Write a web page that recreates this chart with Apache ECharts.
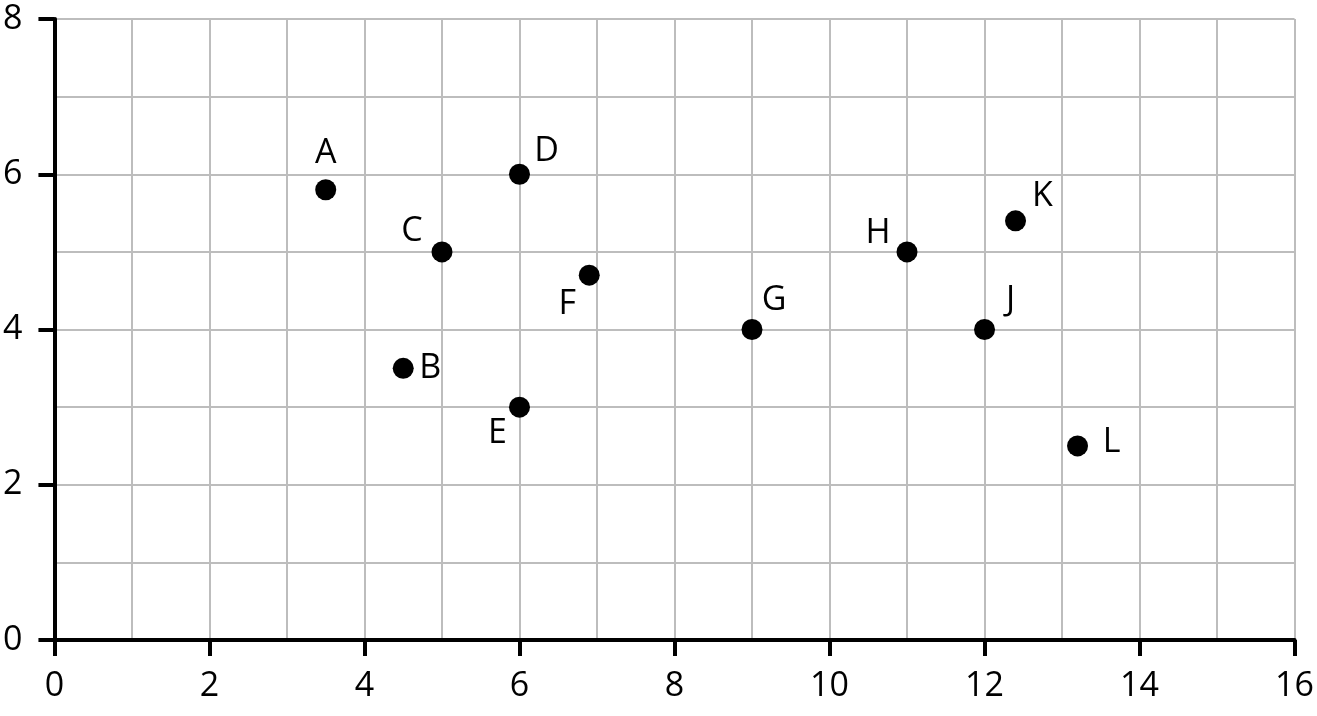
<!DOCTYPE html>
<html><head><meta charset="utf-8">
<script src="https://cdn.jsdelivr.net/npm/echarts@6/dist/echarts.min.js"></script>
<style>html,body{margin:0;padding:0;background:#fff}#c{width:1317px;height:716px}</style>
</head><body><div id="c"></div>
<script>
const names = ['A','B','C','D','E','F','G','H','J','K','L'];
const xValues = [3.5, 4.5, 5, 6, 6, 6.9, 9, 11, 12, 12.4, 13.2];
const yValues = [5.8, 3.5, 5, 6, 3, 4.7, 4, 5, 4, 5.4, 2.5];
const xTicks = [0, 2, 4, 6, 8, 10, 12, 14, 16];
const yTicks = [0, 2, 4, 6, 8];

// label placement (style only)
const labelOffsets = {
  A:[0,-36], B:[27,0], C:[-30,-21], D:[27,-23], E:[-22,26], F:[-22,29],
  G:[22,-29], H:[-29,-19], J:[26,-29], K:[27,-25], L:[34,-4]
};

const data = names.map((n,i)=>({
  name:n, value:[xValues[i], yValues[i]],
  label:{offset:labelOffsets[n]}
}));

const font = 'Open Sans';
const grid = {color:'#bdbdbd', width:2};
const chart = echarts.init(document.getElementById('c'));
chart.setOption({
  animation:false,
  grid:{left:53, right:22, top:19, bottom:76, containLabel:false},
  xAxis:{type:'value', min:xTicks[0], max:xTicks[xTicks.length-1], interval:2,
    axisLine:{show:true, onZero:false, lineStyle:{color:'#000', width:4}},
    axisTick:{show:true, length:16, lineStyle:{color:'#000', width:4}},
    axisLabel:{fontFamily:font, fontSize:34, color:'#000', margin:29},
    splitLine:{show:true, lineStyle:grid},
    minorTick:{show:false, splitNumber:2},
    minorSplitLine:{show:true, lineStyle:grid}
  },
  yAxis:{type:'value', min:yTicks[0], max:yTicks[yTicks.length-1], interval:2,
    axisLine:{show:true, onZero:false, lineStyle:{color:'#000', width:4}},
    axisTick:{show:true, length:16, lineStyle:{color:'#000', width:4}},
    axisLabel:{fontFamily:font, fontSize:34, color:'#000', margin:32},
    splitLine:{show:true, lineStyle:grid},
    minorTick:{show:false, splitNumber:2},
    minorSplitLine:{show:true, lineStyle:grid}
  },
  series:[{
    type:'scatter', symbol:'circle', symbolSize:21,
    itemStyle:{color:'#000', opacity:1},
    emphasis:{disabled:true},
    label:{show:true, position:'inside', formatter:'{b}', fontFamily:font, fontSize:34,
      color:'#000', align:'center', verticalAlign:'middle', textBorderWidth:0},
    data:data, z:10
  }]
});
</script></body></html>
